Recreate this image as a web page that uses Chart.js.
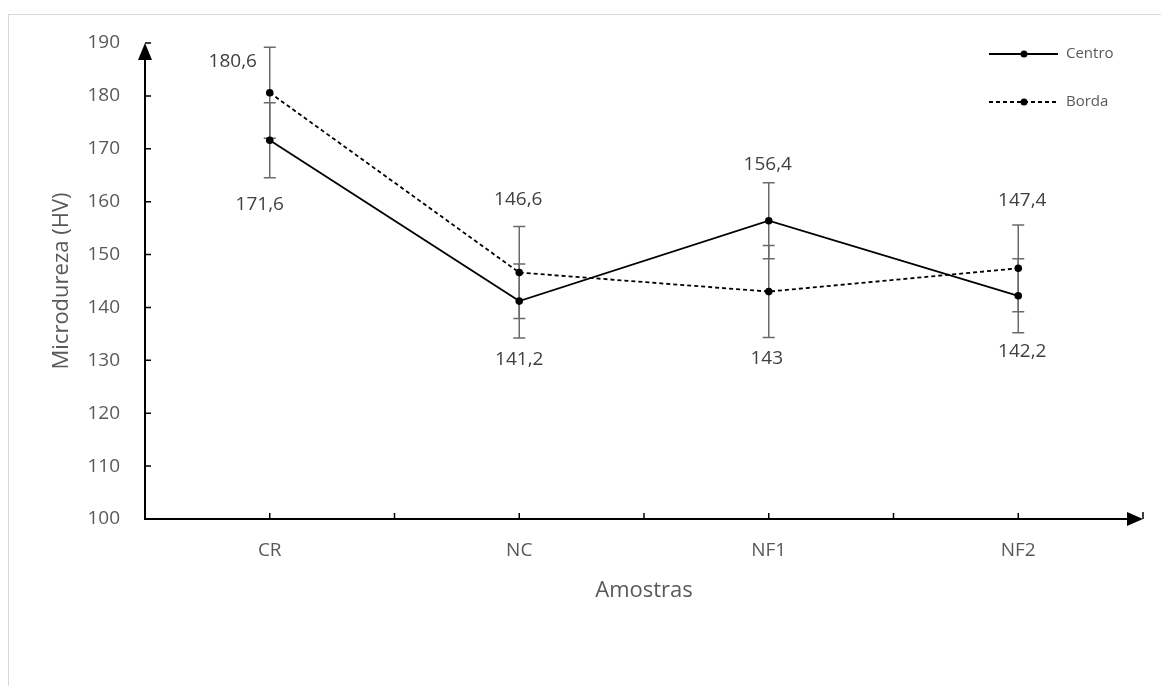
<!DOCTYPE html>
<html>
<head>
<meta charset="utf-8">
<script src="https://cdn.jsdelivr.net/npm/chart.js@4"></script>
<style>
html, body { margin: 0; padding: 0; background: #fff; }
#wrap { position: relative; width: 1161px; height: 686px; overflow: hidden; }
#moldura { position: absolute; left: 8px; top: 14px; width: 1170px; height: 690px; border: 1px solid #d9d9d9; }
canvas { position: absolute; left: 0; top: 0; }
</style>
</head>
<body>
<div id="wrap">
  <div id="moldura"></div>
  <canvas id="graficoDureza" width="1161" height="686"></canvas>
</div>
<script>
const amostras = ['CR', 'NC', 'NF1', 'NF2']
const centro = [171.6, 141.2, 156.4, 142.2]
const borda = [180.6, 146.6, 143, 147.4]
const erroCentro = [7.1, 7.0, 7.2, 7.0]
const erroBorda = [8.6, 8.7, 8.7, 8.2]
const ticksY = [100, 110, 120, 130, 140, 150, 160, 170, 180, 190]

const fonte = '"Open Sans", "Noto Sans", sans-serif'
const corTexto = '#595959'

// deslocamento (px) dos rótulos em relação ao ponto, ajustado à mão
const posRotulos = {
    0: [[-10, 64], [0, 58], [-1, -56], [4, 56]],
    1: [[-37, -31], [-1, -73], [-2, 67], [4, -68]]
}
const erros = { 0: erroCentro, 1: erroBorda }

const fmt = v => String(v).replace('.', ',')

const desenhoExtra = {
    id: 'desenhoExtra',
    beforeDatasetsDraw(chart) {
        const { ctx, scales: { x, y } } = chart
        ctx.save()
        ctx.strokeStyle = '#6a6a6a'
        ctx.lineWidth = 1.5
        chart.data.datasets.forEach((ds, d) => {
            ds.data.forEach((v, i) => {
                const px = x.getPixelForValue(i)
                const e = erros[d][i]
                const yt = y.getPixelForValue(v + e)
                const yb = y.getPixelForValue(v - e)
                ctx.beginPath()
                ctx.moveTo(px, yt); ctx.lineTo(px, yb)
                ctx.moveTo(px - 6, yt); ctx.lineTo(px + 6, yt)
                ctx.moveTo(px - 6, yb); ctx.lineTo(px + 6, yb)
                ctx.stroke()
            })
        })
        ctx.restore()
    },
    afterDraw(chart) {
        const { ctx, chartArea: { left, right, top, bottom }, scales: { x, y } } = chart
        ctx.save()

        // eixos com setas
        ctx.strokeStyle = '#000'
        ctx.fillStyle = '#000'
        ctx.lineWidth = 2
        ctx.beginPath()
        ctx.moveTo(left, bottom + 1); ctx.lineTo(left, top + 10)
        ctx.moveTo(left - 1, bottom); ctx.lineTo(right - 10, bottom)
        ctx.stroke()
        ctx.beginPath()
        ctx.moveTo(left, top); ctx.lineTo(left - 7, top + 17); ctx.lineTo(left + 7, top + 17)
        ctx.closePath(); ctx.fill()
        ctx.beginPath()
        ctx.moveTo(right, bottom); ctx.lineTo(right - 16, bottom - 7); ctx.lineTo(right - 16, bottom + 7)
        ctx.closePath(); ctx.fill()

        ctx.lineWidth = 1.5
        ctx.beginPath()
        ticksY.forEach(v => {
            const py = y.getPixelForValue(v)
            ctx.moveTo(left, py); ctx.lineTo(left + 6, py)
        })
        for (let i = 0; i <= amostras.length * 2 - 1; i++) {
            const px = x.getPixelForValue(i / 2)
            ctx.moveTo(px, bottom); ctx.lineTo(px, bottom - 6)
        }
        ctx.moveTo(right, bottom); ctx.lineTo(right, bottom - 7)
        ctx.stroke()

        // rótulos dos valores
        ctx.font = '19px ' + fonte
        ctx.fillStyle = '#404040'
        ctx.textAlign = 'center'
        ctx.textBaseline = 'middle'
        chart.data.datasets.forEach((ds, d) => {
            const meta = chart.getDatasetMeta(d)
            meta.data.forEach((pt, i) => {
                const [dx, dy] = posRotulos[d][i]
                ctx.fillText(fmt(ds.data[i]), pt.x + dx, pt.y + dy)
            })
        })

        // legenda
        const itens = [{ ds: chart.data.datasets[0], y: 54 }, { ds: chart.data.datasets[1], y: 102 }]
        ctx.font = '15px ' + fonte
        ctx.textAlign = 'left'
        itens.forEach(it => {
            ctx.strokeStyle = '#000'
            ctx.lineWidth = 1.8
            ctx.setLineDash(it.ds.borderDash || [])
            ctx.beginPath()
            ctx.moveTo(989, it.y); ctx.lineTo(1058, it.y)
            ctx.stroke()
            ctx.setLineDash([])
            ctx.fillStyle = '#000'
            ctx.beginPath()
            ctx.arc(1024, it.y, 3.5, 0, Math.PI * 2)
            ctx.fill()
            ctx.fillStyle = corTexto
            ctx.fillText(it.ds.label, 1066, it.y)
        })
        ctx.restore()
    }
}

const ctx = document.getElementById('graficoDureza').getContext('2d')

new Chart(ctx, {
    type: 'line',
    data: {
        labels: amostras,
        datasets: [{
            label: 'Centro',
            data: centro,
            borderColor: '#000',
            backgroundColor: '#000',
            borderWidth: 1.8,
            pointRadius: 3.8,
            pointBackgroundColor: '#000',
            pointBorderWidth: 0,
            tension: 0
        }, {
            label: 'Borda',
            data: borda,
            borderColor: '#000',
            backgroundColor: '#000',
            borderWidth: 1.8,
            borderDash: [4, 3],
            pointRadius: 3.8,
            pointBackgroundColor: '#000',
            pointBorderWidth: 0,
            tension: 0
        }]
    },
    options: {
        responsive: false,
        animation: false,
        devicePixelRatio: 1,
        layout: { padding: { left: 0, top: 43, right: 18, bottom: 0 } },
        plugins: {
            legend: { display: false },
            tooltip: { enabled: false }
        },
        scales: {
            x: {
                type: 'category',
                offset: true,
                grid: { display: false, drawTicks: false },
                border: { display: false },
                ticks: { color: corTexto, font: { family: fonte, size: 19 }, padding: 20 },
                title: {
                    display: true,
                    text: 'Amostras',
                    color: corTexto,
                    font: { family: fonte, size: 22 },
                    padding: { top: 0, bottom: 82 }
                },
                afterFit(scale) { scale.height = 167 }
            },
            y: {
                min: 100,
                max: 190,
                grid: { display: false, drawTicks: false },
                border: { display: false },
                ticks: {
                    stepSize: 10,
                    color: corTexto,
                    font: { family: fonte, size: 19 },
                    padding: 25
                },
                title: {
                    display: true,
                    text: 'Microdureza (HV)',
                    color: corTexto,
                    font: { family: fonte, size: 22 },
                    padding: { top: 49, bottom: 0 }
                },
                afterFit(scale) { scale.width = 145 }
            }
        }
    },
    plugins: [desenhoExtra]
})
</script>
</body>
</html>
